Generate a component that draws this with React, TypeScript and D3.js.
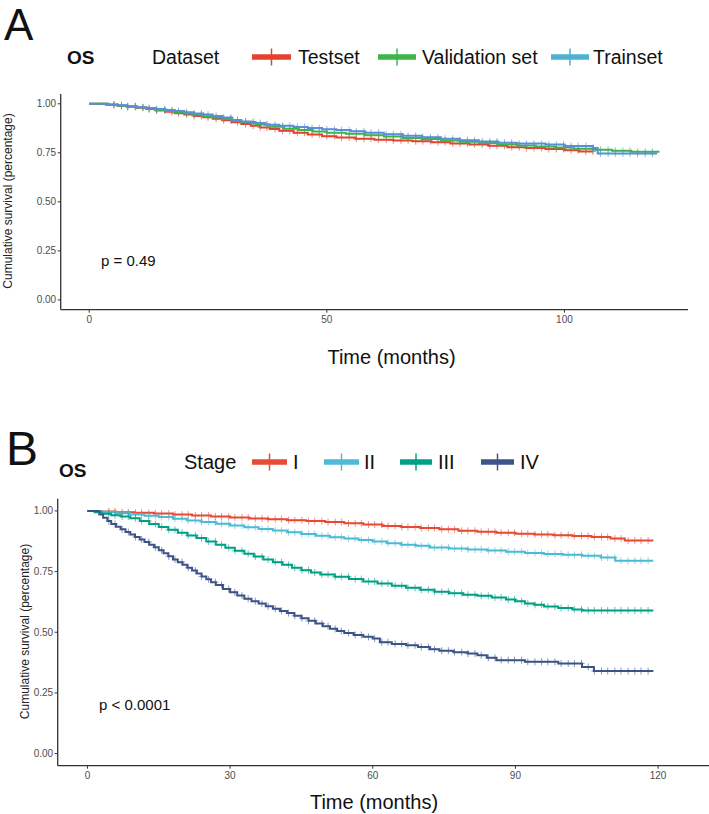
import * as d3 from "d3";

// ---- Panel A: OS by dataset ----
const testsetTime = [0, 3.5, 6, 8, 10, 12, 14, 16, 18, 20, 22, 24, 26, 28, 30, 32, 34, 36, 38, 40, 43, 46, 49, 52, 56, 60, 64, 68, 72, 76, 80, 84, 88, 92, 96, 100, 103];
const testsetSurv = [1, 0.995, 0.99, 0.985, 0.98, 0.973, 0.966, 0.959, 0.952, 0.945, 0.938, 0.931, 0.924, 0.916, 0.906, 0.897, 0.888, 0.879, 0.872, 0.862, 0.852, 0.843, 0.835, 0.828, 0.822, 0.817, 0.813, 0.809, 0.804, 0.798, 0.793, 0.786, 0.779, 0.774, 0.769, 0.763, 0.757];

const validTime = [0, 4, 6, 8, 10, 12, 14, 16, 18, 20, 22, 24, 26, 28, 30, 32, 35, 38, 41, 44, 47, 50, 54, 58, 62, 66, 70, 74, 78, 82, 86, 90, 94, 98, 102, 106, 110, 114];
const validSurv = [1, 0.995, 0.99, 0.986, 0.981, 0.975, 0.969, 0.963, 0.957, 0.951, 0.944, 0.937, 0.93, 0.923, 0.915, 0.907, 0.895, 0.883, 0.873, 0.866, 0.859, 0.853, 0.847, 0.84, 0.833, 0.826, 0.82, 0.813, 0.806, 0.8, 0.793, 0.787, 0.782, 0.777, 0.771, 0.766, 0.76, 0.755];

const trainTime = [0, 4, 6, 8, 10, 12, 14, 16, 18, 20, 22, 24, 26, 28, 30, 32, 34, 37, 40, 43, 46, 49, 52, 55, 58, 62, 66, 70, 74, 78, 82, 86, 90, 96, 100, 106, 107];
const trainSurv = [1, 0.996, 0.992, 0.988, 0.983, 0.978, 0.973, 0.968, 0.963, 0.957, 0.951, 0.945, 0.938, 0.93, 0.918, 0.91, 0.902, 0.893, 0.888, 0.882, 0.876, 0.87, 0.866, 0.86, 0.853, 0.845, 0.837, 0.83, 0.822, 0.814, 0.808, 0.802, 0.797, 0.792, 0.785, 0.775, 0.746];

const censorA = [5.2, 6.8, 8.1, 9.7, 11.3, 12.6, 14.2, 15.9, 17.4, 18.8, 20.5, 22.1, 23.6, 25.0, 26.7, 28.3, 29.8, 31.2, 32.9, 34.5, 36.0, 37.4, 39.1, 40.7, 42.2, 43.8, 45.3, 46.9, 48.4, 50.0, 51.6, 53.1, 54.7, 56.2, 57.8, 59.3, 60.9, 62.5, 64.0, 65.6, 67.1, 68.7, 70.2, 71.8, 73.4, 74.9, 76.5, 78.0, 79.6, 81.1, 82.7, 84.3, 85.8, 87.4, 88.9, 90.5, 92.0, 93.6, 95.2, 96.7, 98.3, 99.8, 101.4, 102.9, 104.5, 106.0, 107.6, 109.2, 110.7, 112.3, 113.8, 115.4, 117.0, 118.5];

// ---- Panel B: OS by stage ----
const stage1Time = [0, 3, 6, 10, 14, 18, 22, 26, 30, 34, 38, 42, 46, 50, 54, 58, 62, 66, 70, 74, 78, 82, 86, 90, 94, 98, 102, 106, 110, 113];
const stage1Surv = [1, 0.998, 0.995, 0.992, 0.989, 0.985, 0.981, 0.977, 0.973, 0.969, 0.966, 0.962, 0.958, 0.954, 0.949, 0.944, 0.938, 0.934, 0.93, 0.924, 0.918, 0.914, 0.91, 0.906, 0.903, 0.9, 0.897, 0.893, 0.886, 0.878];

const stage2Time = [0, 3, 6, 9, 12, 15, 18, 21, 24, 27, 30, 33, 36, 39, 42, 45, 48, 51, 54, 57, 60, 63, 66, 69, 72, 76, 80, 84, 88, 92, 96, 100, 104, 108, 111];
const stage2Surv = [1, 0.996, 0.99, 0.985, 0.98, 0.975, 0.968, 0.961, 0.954, 0.947, 0.94, 0.933, 0.926, 0.919, 0.912, 0.905, 0.898, 0.892, 0.886, 0.88, 0.874, 0.867, 0.861, 0.856, 0.849, 0.845, 0.841, 0.837, 0.832, 0.827, 0.823, 0.819, 0.815, 0.808, 0.795];

const stage3Time = [0, 1.5, 3, 5, 7, 9, 11, 13, 15, 17, 19, 21, 23, 25, 27, 29, 31, 33, 35, 37, 39, 41, 43, 45, 47, 49, 52, 55, 58, 61, 64, 67, 70, 73, 76, 79, 82, 85, 88, 90, 92, 94, 96, 99, 102, 104];
const stage3Surv = [1, 0.995, 0.988, 0.982, 0.977, 0.97, 0.958, 0.946, 0.934, 0.922, 0.91, 0.899, 0.888, 0.874, 0.861, 0.848, 0.836, 0.824, 0.812, 0.8, 0.789, 0.778, 0.766, 0.756, 0.746, 0.738, 0.729, 0.719, 0.709, 0.701, 0.692, 0.683, 0.675, 0.667, 0.661, 0.655, 0.65, 0.643, 0.635, 0.628, 0.619, 0.613, 0.606, 0.6, 0.594, 0.59];

const stage4Time = [0, 2.5, 3.3, 4.2, 5, 6, 7, 8, 9, 10, 11, 12, 13, 14, 15, 16, 17, 18, 19, 20, 21, 22, 23, 24, 25, 26, 27, 28.5, 30, 31.5, 33, 34.5, 36, 37.5, 39, 40.5, 42, 43.5, 45, 46.5, 48, 49.5, 51, 52.5, 54, 56, 58, 60, 61.5, 64, 67, 69.5, 72, 74, 77, 80, 82, 84, 86, 92, 99, 104, 106.5];
const stage4Surv = [1, 0.985, 0.972, 0.958, 0.946, 0.935, 0.924, 0.913, 0.903, 0.893, 0.882, 0.872, 0.861, 0.85, 0.838, 0.826, 0.813, 0.8, 0.789, 0.778, 0.766, 0.754, 0.742, 0.73, 0.718, 0.706, 0.695, 0.678, 0.665, 0.651, 0.638, 0.628, 0.618, 0.607, 0.597, 0.588, 0.579, 0.568, 0.558, 0.547, 0.536, 0.525, 0.514, 0.505, 0.497, 0.489, 0.481, 0.474, 0.459, 0.452, 0.446, 0.439, 0.43, 0.424, 0.418, 0.412, 0.405, 0.395, 0.385, 0.378, 0.371, 0.357, 0.34];

const censorB = [4.5, 5.8, 7.3, 8.6, 10.1, 11.4, 12.9, 14.3, 15.6, 17.1, 18.4, 19.9, 21.2, 22.7, 24.0, 25.5, 26.9, 28.2, 29.7, 31.0, 32.5, 33.8, 35.3, 36.7, 38.0, 39.5, 40.8, 42.3, 43.6, 45.1, 46.5, 47.8, 49.3, 50.6, 52.1, 53.4, 54.9, 56.3, 57.6, 59.1, 60.4, 61.9, 63.2, 64.7, 66.1, 67.4, 68.9, 70.2, 71.7, 73.0, 74.5, 75.9, 77.2, 78.7, 80.0, 81.5, 82.8, 84.3, 85.7, 87.0, 88.5, 89.8, 91.3, 92.6, 94.1, 95.5, 96.8, 98.3, 99.6, 101.1, 102.4, 103.9, 105.3, 106.6, 108.1, 109.4, 110.9, 112.2, 113.7, 115.1, 116.4, 117.9];

const xTicksA = [0, 50, 100];
const xTicksB = [0, 30, 60, 90, 120];
const yTicks = [0, 0.25, 0.5, 0.75, 1];

const FONT = "'Liberation Sans', Arial, Helvetica, sans-serif";
const AXIS = "#333333";
const TICKTXT = "#4d4d4d";

type Curve = { time: number[]; surv: number[]; end: number; color: string };

function survAt(c: Curve, t: number) {
  const i = d3.bisectRight(c.time, t) - 1;
  return c.surv[Math.max(0, i)];
}

function KMPanel(props: {
  curves: Curve[];
  censor: number[];
  xDomain: [number, number];
  xRange: [number, number];
  yRange: [number, number];
  axisRight: number;
  xTicks: number[];
}) {
  const { curves, censor, xDomain, xRange, yRange, axisRight, xTicks } = props;
  const x = d3.scaleLinear().domain(xDomain).range(xRange);
  const y = d3.scaleLinear().domain([-0.05, 1.05]).range(yRange);
  const line = d3
    .line<[number, number]>()
    .x((d) => x(d[0]))
    .y((d) => y(d[1]))
    .curve(d3.curveStepAfter);
  const x0 = xRange[0];
  const yb = yRange[0];
  return (
    <g>
      {curves.map((c, k) => {
        const pts: [number, number][] = c.time.map((t, i) => [t, c.surv[i]]);
        pts.push([c.end, c.surv[c.surv.length - 1]]);
        return (
          <g key={k}>
            <path d={line(pts) || ""} fill="none" stroke={c.color} strokeWidth={2} />
            {censor
              .filter((t) => t <= c.end)
              .map((t, i) => {
                const cx = x(t);
                const cy = y(survAt(c, t));
                return (
                  <g key={i} stroke={c.color} strokeWidth={1} opacity={0.6}>
                    <line x1={cx} x2={cx} y1={cy - 3.5} y2={cy + 3.5} />
                    <line x1={cx - 3} x2={cx + 3} y1={cy} y2={cy} />
                  </g>
                );
              })}
          </g>
        );
      })}
      {/* axes */}
      <line x1={x0} x2={x0} y1={yRange[1]} y2={yb} stroke={AXIS} strokeWidth={1.3} />
      <line x1={x0} x2={axisRight} y1={yb} y2={yb} stroke={AXIS} strokeWidth={1.3} />
      {yTicks.map((v) => (
        <g key={v}>
          <line x1={x0 - 3} x2={x0} y1={y(v)} y2={y(v)} stroke={AXIS} strokeWidth={1} />
          <text x={x0 - 4.5} y={y(v)} dy="0.35em" textAnchor="end" fontSize={10} fill={TICKTXT}>
            {v.toFixed(2)}
          </text>
        </g>
      ))}
      {xTicks.map((v) => (
        <g key={v}>
          <line x1={x(v)} x2={x(v)} y1={yb} y2={yb + 3} stroke={AXIS} strokeWidth={1} />
          <text x={x(v)} y={yb + 9.5} dy="0.35em" textAnchor="middle" fontSize={10} fill={TICKTXT}>
            {v}
          </text>
        </g>
      ))}
    </g>
  );
}

function Swatch({ x1, x2, y, color }: { x1: number; x2: number; y: number; color: string }) {
  const cx = (x1 + x2) / 2;
  return (
    <g stroke={color}>
      <line x1={x1} x2={x2} y1={y} y2={y} strokeWidth={5.5} />
      <line x1={cx} x2={cx} y1={y - 8.5} y2={y + 8.5} strokeWidth={1.5} />
    </g>
  );
}

export default function App() {
  const curvesA: Curve[] = [
    { time: testsetTime, surv: testsetSurv, end: 106, color: "#E5412F" },
    { time: validTime, surv: validSurv, end: 120, color: "#3DB54A" },
    { time: trainTime, surv: trainSurv, end: 119.5, color: "#5A8FD6" },
  ];
  const curvesB: Curve[] = [
    { time: stage1Time, surv: stage1Surv, end: 119, color: "#E64B35" },
    { time: stage2Time, surv: stage2Surv, end: 119, color: "#4DBBD5" },
    { time: stage3Time, surv: stage3Surv, end: 119, color: "#00A087" },
    { time: stage4Time, surv: stage4Surv, end: 119, color: "#3C5488" },
  ];

  return (
    <svg
      width={709}
      height={814}
      style={{ position: "absolute", left: 0, top: 0, display: "block", background: "#fff" }}
      fontFamily={FONT}
    >
      {/* Panel A */}
      <text x={4} y={40} fontSize={44} fill="#111">A</text>
      <text x={67} y={57} dy="0.35em" fontSize={19} fontWeight="bold" fill="#111">OS</text>
      <text x={152} y={57} dy="0.35em" fontSize={19.5} fill="#111">Dataset</text>
      <Swatch x1={252} x2={291} y={57} color="#E5412F" />
      <text x={298} y={57} dy="0.35em" fontSize={19.5} fill="#111">Testset</text>
      <Swatch x1={378} x2={416} y={57} color="#3DB54A" />
      <text x={422} y={57} dy="0.35em" fontSize={19.5} fill="#111">Validation set</text>
      <Swatch x1={551} x2={589} y={57} color="#4DB2D4" />
      <text x={593} y={57} dy="0.35em" fontSize={19.5} fill="#111">Trainset</text>

      <KMPanel
        curves={curvesA}
        censor={censorA}
        xDomain={[-6, 126]}
        xRange={[60.7, 688]}
        yRange={[309.7, 94]}
        axisRight={688}
        xTicks={xTicksA}
      />
      <text transform="translate(7.5,201) rotate(-90)" dy="0.35em" textAnchor="middle" fontSize={12} fill="#222">
        Cumulative survival (percentage)
      </text>
      <text x={101} y={261} dy="0.35em" fontSize={15} fill="#111">p = 0.49</text>
      <text x={391.5} y={357} dy="0.35em" textAnchor="middle" fontSize={20} fill="#111">Time (months)</text>

      {/* Panel B */}
      <text x={6} y={465} fontSize={48} fill="#111">B</text>
      <text x={59} y={470} dy="0.35em" fontSize={19} fontWeight="bold" fill="#111">OS</text>
      <text x={184} y={462} dy="0.35em" fontSize={20} fill="#111">Stage</text>
      <Swatch x1={252} x2={287} y={462} color="#E64B35" />
      <text x={293} y={462} dy="0.35em" fontSize={20} fill="#111">I</text>
      <Swatch x1={324} x2={359} y={462} color="#4DBBD5" />
      <text x={364} y={462} dy="0.35em" fontSize={20} fill="#111">II</text>
      <Swatch x1={400} x2={432} y={462} color="#00A087" />
      <text x={438} y={462} dy="0.35em" fontSize={20} fill="#111">III</text>
      <Swatch x1={481} x2={514} y={462} color="#3C5488" />
      <text x={520} y={462} dy="0.35em" fontSize={20} fill="#111">IV</text>

      <KMPanel
        curves={curvesB}
        censor={censorB}
        xDomain={[-6.25, 131.25]}
        xRange={[57.7, 711.6]}
        yRange={[765.7, 498.8]}
        axisRight={709}
        xTicks={xTicksB}
      />
      <text transform="translate(25,631.5) rotate(-90)" dy="0.35em" textAnchor="middle" fontSize={12} fill="#222">
        Cumulative survival (percentage)
      </text>
      <text x={99} y={705} dy="0.35em" fontSize={15} fill="#111">p &lt; 0.0001</text>
      <text x={374} y={802} dy="0.35em" textAnchor="middle" fontSize={20} fill="#111">Time (months)</text>
    </svg>
  );
}
